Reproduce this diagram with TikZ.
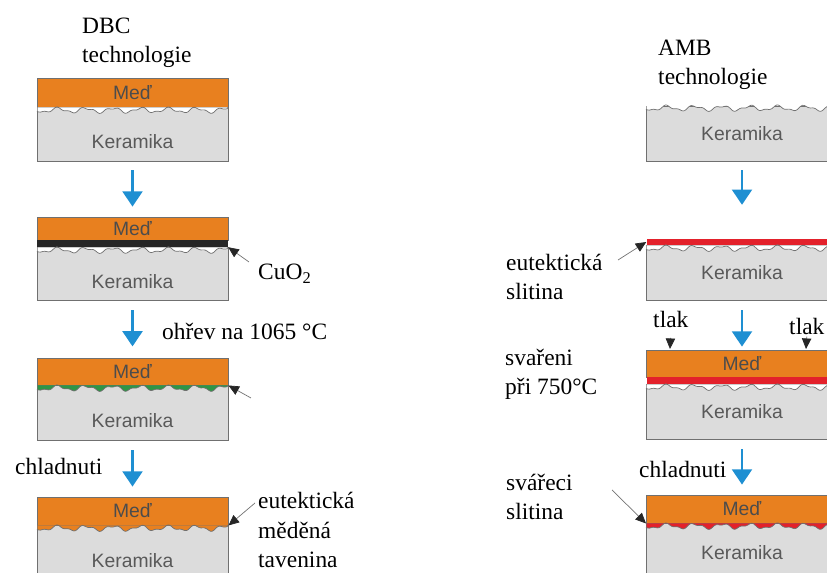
\documentclass[tikz,border=0pt]{standalone}
\usepackage{fontspec}
\setmainfont{Liberation Serif}
\setsansfont{Liberation Sans}
\usetikzlibrary{arrows.meta}

\definecolor{medoranz}{HTML}{E8801F}
\definecolor{keramseda}{HTML}{DCDCDC}
\definecolor{hranaseda}{HTML}{707070}
\definecolor{sipkamodra}{HTML}{1E8FD2}
\definecolor{slitcervena}{HTML}{E3212B}
\definecolor{taveninazelena}{HTML}{2E9646}

% zvlnene rozhrani nad keramikou: x0, x1, horni okraj, vypln
\newcommand{\vlna}[4]{%
  \fill[#4] (#1+0.6,#3+0.5) -- plot[domain=#1+0.6:#2-0.6,samples=120]
    (\x,{#3+3.2+2.2*sin(13*(\x-#1))+1.1*sin(29*(\x-#1)+60)}) -- (#2-0.6,#3+0.5) -- cycle;
  \draw[hranaseda,line width=0.6pt] plot[domain=#1:#2,samples=120]
    (\x,{#3+3.2+2.2*sin(13*(\x-#1))+1.1*sin(29*(\x-#1)+60)});
}

\tikzset{
  med/.style={draw=hranaseda, line width=0.8pt, fill=medoranz, minimum width=5.73cm,
    inner sep=0pt, font=\sffamily\fontsize{16.5}{18}\selectfont, text=black!70},
  keram/.style={draw=hranaseda, line width=0.8pt, fill=keramseda, minimum width=5.73cm,
    inner sep=0pt, font=\sffamily\fontsize{16.5}{18}\selectfont, text=black!65},
  nizko/.style={text height=25pt},
  vrstva/.style={fill=#1, minimum width=5.73cm, inner sep=0pt},
  popis/.style={font=\fontsize{20}{25.5}\selectfont, inner sep=0pt, align=left, anchor=base west},
  sipka/.style={draw=sipkamodra, line width=2pt, -{Triangle[length=13pt,width=17pt]}},
  ukaz/.style={draw=black!55, line width=0.6pt, -{Triangle[length=9pt,width=8pt,color=black!85]}},
}

\begin{document}
\begin{tikzpicture}[x=0.03cm,y=-0.03cm]
    \useasboundingbox (0,0) rectangle (827,573);

    % DBC
    \node[popis] (dbc) at (82,63) {DBC\\technologie};

    \node[med, minimum height=0.87cm] (m1) at (132.5,92.5) {Meď};
    \node[keram, nizko, minimum height=1.62cm] (k1) at (132.5,134) {Keramika};
    \vlna{37}{228}{107}{white}

    \node[med, minimum height=0.69cm] (m2) at (132.5,228.5) {Meď};
    \node[vrstva=black!85, minimum height=0.21cm] (oxid) at (132.5,243.5) {};
    \node[keram, nizko, minimum height=1.59cm] (k2) at (132.5,273.5) {Keramika};
    \vlna{37}{228}{247}{white}
    \node[popis] (cuo) at (258,280) {CuO\textsubscript{2}};
    \coordinate (c1) at (249,262);
    \draw[ukaz] (c1) -- (oxid.south east);

    \node[med, minimum height=0.81cm] (m3) at (132.5,371.5) {Meď};
    \node[keram, nizko, minimum height=1.65cm] (k3) at (132.5,412.5) {Keramika};
    \vlna{37}{228}{385}{taveninazelena}
    \coordinate (c2) at (251,398);
    \draw[ukaz] (c2) -- (m3.south east);

    \node[med, minimum height=0.84cm] (m4) at (132.5,511) {Meď};
    \node[keram, nizko, minimum height=1.65cm] (k4) at (132.5,552.5) {Keramika};
    \vlna{37}{228}{525}{medoranz}
    \node[popis] (tav) at (258,568) {eutektická\\měděná\\tavenina};
    \coordinate (c3) at (255,503);
    \draw[ukaz] (c3) -- (m4.south east);

    % sipky postupu DBC
    \draw[sipka, shorten <=7.5pt, shorten >=8.5pt] (k1) -- (m2);
    \draw[sipka, shorten <=8.5pt, shorten >=9.5pt] (k2) -- (m3);
    \node[popis] (ohrev) at (162,340) {ohřev na 1065 °C};
    \draw[sipka, shorten <=8.5pt, shorten >=8.5pt] (k3) -- (m4);
    \node[popis] (chl1) at (15,475) {chladnuti};

    % AMB
    \node[popis] (amb) at (658,85) {AMB\\technologie};

    \node[keram, minimum height=1.65cm] (ak1) at (742,133.5) {Keramika};
    \vlna{646}{838}{105}{white}

    \node[vrstva=slitcervena, minimum height=0.18cm] (ar2) at (742,242) {};
    \node[keram, minimum height=1.65cm] (ak2) at (742,272.5) {Keramika};
    \vlna{646}{838}{245}{white}
    \node[popis] (eut) at (506,300) {eutektická\\slitina};
    \coordinate (c4) at (618,260);
    \draw[ukaz] (c4) -- (ar2.west);

    \node[med, minimum height=0.81cm] (am3) at (742,363.5) {Meď};
    \node[vrstva=slitcervena, minimum height=0.21cm] (ar3) at (742,380.5) {};
    \node[keram, minimum height=1.65cm] (ak3) at (742,411.5) {Keramika};
    \vlna{646}{838}{384}{white}
    \node[popis] (svar) at (505,395) {svařeni\\při 750°C};
    \node[popis] (tlak1) at (653,328) {tlak};
    \node[popis] (tlak2) at (789,335) {tlak};
    \coordinate (t1) at (670,349);
    \coordinate (t2) at (806,349);
    \draw[ukaz, shorten <=8pt] (tlak1.south) -- (t1);
    \draw[ukaz, shorten <=1pt] (tlak2.south) -- (t2);

    \node[med, minimum height=0.84cm] (am4) at (742,509) {Meď};
    \node[keram, minimum height=1.8cm] (ak4) at (742,553) {Keramika};
    \vlna{646}{838}{523}{slitcervena}
    \node[popis] (svl) at (506,520) {svářeci\\slitina};
    \coordinate (c5) at (612,490);
    \draw[ukaz] (c5) -- (am4.south west);

    % sipky postupu AMB
    \draw[sipka, shorten <=7.5pt, shorten >=29pt] (ak1) -- (ar2);
    \draw[sipka, shorten <=8.5pt, shorten >=2.5pt] (ak2) -- (am3);
    \draw[sipka, shorten <=8.5pt, shorten >=8.5pt] (ak3) -- (am4);
    \node[popis] (chl2) at (639,478) {chladnuti};
\end{tikzpicture}
\end{document}
